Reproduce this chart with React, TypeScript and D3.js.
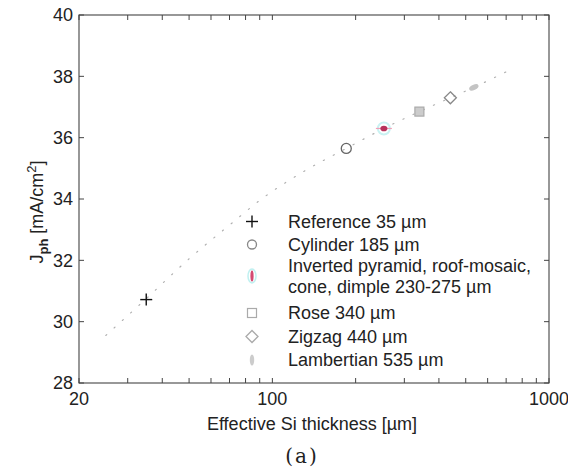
import React from "react";
import * as d3 from "d3";

// Effective silicon thickness (µm) and photocurrent density (mA/cm²) per texture
const structures = ["Reference", "Cylinder", "Inverted pyramid", "Rose", "Zigzag", "Lambertian"];
const thickness = [35, 185, 253, 340, 440, 535];
const jph = [30.72, 35.65, 36.3, 36.85, 37.3, 37.64];

// Dotted reference curve: Jph versus thickness
const curveThickness = [25, 35, 50, 70, 93, 130, 185, 253, 340, 440, 535, 720];
const curveJph = [29.55, 30.75, 32.05, 33.15, 34.05, 34.9, 35.65, 36.3, 36.85, 37.3, 37.64, 38.2];

const legendLabels = [
  ["Reference 35 µm"],
  ["Cylinder 185 µm"],
  ["Inverted pyramid, roof-mosaic,", "cone, dimple 230-275 µm"],
  ["Rose 340 µm"],
  ["Zigzag 440 µm"],
  ["Lambertian 535 µm"],
];

const xMajor = [20, 100, 1000];
const xMinor = [30, 40, 50, 60, 70, 80, 90, 200, 300, 400, 500, 600, 700, 800, 900];
const yTicks = [28, 30, 32, 34, 36, 38, 40];

const W = 568;
const H = 474;
const left = 79;
const right = 549;
const top = 15;
const bottom = 383;
const font = "'Liberation Sans', Arial, sans-serif";
const ink = "#222";
const axisInk = "#444";

function Marker({ kind, cx, cy, legend }: { kind: number; cx: number; cy: number; legend?: boolean }) {
  switch (kind) {
    case 0:
      return (
        <g stroke="#111" strokeWidth={1.4}>
          <line x1={cx - 6} x2={cx + 6} y1={cy} y2={cy} />
          <line x1={cx} x2={cx} y1={cy - 6} y2={cy + 6} />
        </g>
      );
    case 1:
      return <circle cx={cx} cy={cy} r={legend ? 4.5 : 5} fill="none" stroke={legend ? "#888" : "#666"} strokeWidth={1.3} />;
    case 2:
      return legend ? (
        <g>
          <ellipse cx={cx} cy={cy} rx={4} ry={7} fill="none" stroke="#bff0f0" strokeWidth={1.5} />
          <ellipse cx={cx} cy={cy} rx={1.6} ry={5.5} fill="#d44a72" />
        </g>
      ) : (
        <g>
          <circle cx={cx} cy={cy} r={6} fill="none" stroke="#c8f2f2" strokeWidth={2} />
          <line x1={cx - 8} x2={cx + 8} y1={cy} y2={cy} stroke="#f0a0b8" strokeWidth={1.2} />
          <ellipse cx={cx} cy={cy} rx={3.5} ry={2.8} fill="#b8335c" />
        </g>
      );
    case 3:
      return legend ? (
        <rect x={cx - 4.5} y={cy - 4.5} width={9} height={9} fill="none" stroke="#aaa" strokeWidth={1.2} />
      ) : (
        <rect x={cx - 4.5} y={cy - 4.5} width={9} height={9} fill="#ccc" stroke="#aaa" strokeWidth={1.2} />
      );
    case 4:
      return (
        <path
          d={`M${cx},${cy - 6}L${cx + 6},${cy}L${cx},${cy + 6}L${cx - 6},${cy}Z`}
          fill="none"
          stroke={legend ? "#aaa" : "#888"}
          strokeWidth={1.3}
        />
      );
    default:
      return legend ? (
        <ellipse cx={cx} cy={cy} rx={2.2} ry={5.5} fill="#ccc" />
      ) : (
        <ellipse cx={cx} cy={cy} rx={5} ry={2.6} fill="#c4c4c4" transform={`rotate(-25 ${cx} ${cy})`} />
      );
  }
}

export default function App() {
  const x = d3.scaleLog().domain([20, 1000]).range([left, right]);
  const y = d3.scaleLinear().domain([28, 40]).range([bottom, top]);

  const curve = d3
    .line<number>()
    .x((_, i) => x(curveThickness[i]))
    .y((d) => y(d))
    .curve(d3.curveMonotoneX)(curveJph) as string;

  const tick = 5;
  const legendX = 252;
  const textX = 288;
  const rowYs = [221.5, 244.5, 276, 313, 336.5, 360];
  const lineGap = 20.4;

  return (
    <svg width={W} height={H} style={{ position: "absolute", left: 0, top: 0, background: "#fff" }}>
      <rect width={W} height={H} fill="#fff" />

      {/* reference curve */}
      <path d={curve} fill="none" stroke="#b0b0b0" strokeWidth={1.2} strokeDasharray="1.2 10" strokeLinecap="round" />

      {/* axes box */}
      <rect x={left} y={top} width={right - left} height={bottom - top} fill="none" stroke={axisInk} strokeWidth={1.1} />

      {/* y ticks */}
      {yTicks.map((t) => (
        <g key={`y${t}`}>
          <line x1={left} x2={left + tick} y1={y(t)} y2={y(t)} stroke={axisInk} />
          <line x1={right} x2={right - tick} y1={y(t)} y2={y(t)} stroke={axisInk} />
          <text x={73} y={y(t)} dy="0.35em" textAnchor="end" fontFamily={font} fontSize={18} fill={ink}>
            {t}
          </text>
        </g>
      ))}

      {/* x ticks */}
      {[...xMajor, ...xMinor].map((t) => (
        <g key={`x${t}`}>
          <line x1={x(t)} x2={x(t)} y1={bottom} y2={bottom - tick} stroke={axisInk} />
          <line x1={x(t)} x2={x(t)} y1={top} y2={top + tick} stroke={axisInk} />
        </g>
      ))}
      {xMajor.map((t) => (
        <text key={`xl${t}`} x={x(t)} y={405} textAnchor="middle" fontFamily={font} fontSize={18} fill={ink}>
          {t}
        </text>
      ))}

      {/* axis titles */}
      <text x={312} y={430} textAnchor="middle" fontFamily={font} fontSize={18} fill={ink}>
        Effective Si thickness [µm]
      </text>
      <text transform="translate(43,212) rotate(-90)" textAnchor="middle" fontFamily={font} fontSize={18} fill={ink}>
        J
        <tspan fontSize={13} fontWeight="bold" dy={5}>ph</tspan>
        <tspan dy={-5}> [mA/cm</tspan>
        <tspan fontSize={13} dy={-7}>2</tspan>
        <tspan dy={7}>]</tspan>
      </text>

      {/* data points */}
      {structures.map((s, i) => (
        <Marker key={s} kind={i} cx={x(thickness[i])} cy={y(jph[i])} />
      ))}

      {/* legend */}
      {legendLabels.map((lines, i) => (
        <g key={`lg${i}`}>
          <Marker kind={i} cx={legendX} cy={rowYs[i]} legend />
          {lines.map((ln, j) => (
            <text
              key={j}
              x={textX}
              y={rowYs[i] - ((lines.length - 1) * lineGap) / 2 + j * lineGap}
              dy="0.35em"
              fontFamily={font}
              fontSize={18}
              fill={ink}
            >
              {ln}
            </text>
          ))}
        </g>
      ))}

      {/* panel label */}
      <text x={302} y={463} textAnchor="middle" fontFamily="'DejaVu Serif', 'Liberation Serif', serif" fontSize={20} letterSpacing={2} fill={ink}>
        (a)
      </text>
    </svg>
  );
}
